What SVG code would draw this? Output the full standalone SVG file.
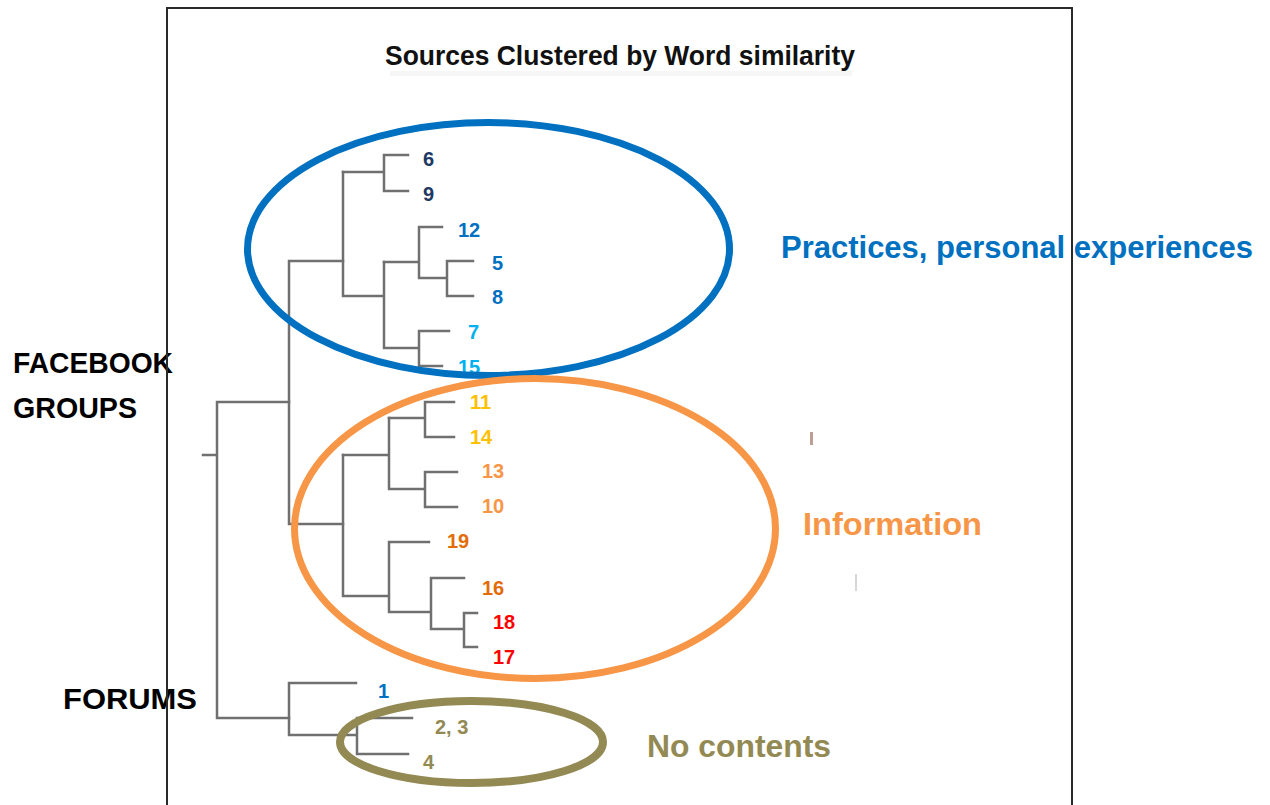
<svg xmlns="http://www.w3.org/2000/svg" width="1270" height="805" viewBox="0 0 1270 805">
  <style>
    .tree { fill: none; stroke: #707070; stroke-width: 2.5; stroke-linecap: square; }
    .leaf { font-family: "Liberation Sans", Arial, sans-serif; font-weight: bold; font-size: 20px; }
    .side { font-family: "Liberation Sans", Arial, sans-serif; font-weight: bold; font-size: 30px; fill: #000000; }
    .theme { font-family: "Liberation Sans", Arial, sans-serif; font-weight: bold; font-size: 31px; }
    .ring { fill: none; }
  </style>

  <rect width="1270" height="805" fill="#ffffff"/>

  <!-- chart title -->
  <g id="title">
    <rect x="390" y="71" width="462" height="5" fill="#f6f6f6"/>
    <text x="385" y="65" font-family="Liberation Sans, Arial, sans-serif" font-weight="bold" font-size="27" fill="#111111" textLength="470" lengthAdjust="spacingAndGlyphs">Sources Clustered by Word similarity</text>
  </g>

  <!-- dendrogram branches -->
  <g id="connectors" class="tree">
    <path d="M384 155 H408 M384 191 H408 M384 155 V191 M343 172 H384"/>
    <path d="M419 227 H442 M447 261 H473 M447 296 H473 M447 261 V296 M419 278 H447 M419 227 V278 M384 262 H419"/>
    <path d="M419 331 H449 M419 366 H442 M419 331 V366 M384 348 H419 M384 262 V348 M343 296 H384 M343 172 V296"/>
    <path d="M289 261 H343 M289 261 V524 M289 524 H343"/>
    <path d="M425 402 H454 M425 437 H454 M425 402 V437 M389 418 H425"/>
    <path d="M425 472 H457 M425 507 H457 M425 472 V507 M389 489 H425 M389 418 V489 M343 455 H389"/>
    <path d="M389 542 H429 M431 578 H464 M464 613 H477 M464 647 H477 M464 613 V647 M431 629 H464 M431 578 V629 M389 612 H431 M389 542 V612 M343 596 H389 M343 455 V596"/>
    <path d="M203 455 H217 M217 402 H289 M217 402 V718 M217 718 H289"/>
    <path d="M289 683 H356 M289 683 V735 M289 735 H357 M357 718 H412 M357 754 H408 M357 718 V754"/>
  </g>

  <!-- leaf labels -->
  <g id="leaf-6" class="leaf" fill="#203864"><text x="423" y="166">6</text></g>
  <g id="leaf-9" class="leaf" fill="#203864"><text x="423" y="201">9</text></g>
  <g id="leaf-12" class="leaf" fill="#0070c0"><text x="458" y="237">12</text></g>
  <g id="leaf-5" class="leaf" fill="#0070c0"><text x="492" y="270">5</text></g>
  <g id="leaf-8" class="leaf" fill="#0070c0"><text x="492" y="304">8</text></g>
  <g id="leaf-7" class="leaf" fill="#00b0f0"><text x="468" y="339">7</text></g>
  <g id="leaf-15" class="leaf" fill="#00b0f0"><text x="458" y="374">15</text></g>
  <g id="leaf-11" class="leaf" fill="#ffc000"><text x="470" y="409">11</text></g>
  <g id="leaf-14" class="leaf" fill="#ffc000"><text x="470" y="444">14</text></g>
  <g id="leaf-13" class="leaf" fill="#f79646"><text x="482" y="478">13</text></g>
  <g id="leaf-10" class="leaf" fill="#f79646"><text x="482" y="513">10</text></g>
  <g id="leaf-19" class="leaf" fill="#e36c09"><text x="447" y="548">19</text></g>
  <g id="leaf-16" class="leaf" fill="#e36c09"><text x="482" y="595">16</text></g>
  <g id="leaf-18" class="leaf" fill="#ff0000"><text x="493" y="629">18</text></g>
  <g id="leaf-17" class="leaf" fill="#ff0000"><text x="493" y="664">17</text></g>
  <g id="leaf-1" class="leaf" fill="#0070c0"><text x="378" y="698">1</text></g>
  <g id="leaf-2-3" class="leaf" fill="#938953"><text x="435" y="734">2, 3</text></g>
  <g id="leaf-4" class="leaf" fill="#938953"><text x="423" y="769">4</text></g>

  <!-- stray marks -->
  <rect x="810" y="432" width="3" height="13" fill="#a07868" opacity="0.7"/>
  <rect x="855" y="574" width="2" height="17" fill="#cccccc" opacity="0.8"/>

  <!-- cluster rings -->
  <g id="cluster-practices">
    <ellipse class="ring" cx="488.5" cy="249" rx="241" ry="126.5" stroke="#0070c0" stroke-width="7"/>
    <text class="theme" x="781" y="258" fill="#0070c0" textLength="472" lengthAdjust="spacingAndGlyphs">Practices, personal experiences</text>
  </g>
  <g id="cluster-information">
    <ellipse class="ring" cx="535" cy="528.5" rx="240.5" ry="150" stroke="#f79646" stroke-width="7"/>
    <text class="theme" x="803" y="535" fill="#f79646" textLength="179" lengthAdjust="spacingAndGlyphs">Information</text>
  </g>
  <g id="cluster-no-contents">
    <ellipse class="ring" cx="471.5" cy="742" rx="131.5" ry="41" stroke="#938953" stroke-width="8"/>
    <text class="theme" x="647" y="757" fill="#938953" textLength="184" lengthAdjust="spacingAndGlyphs">No contents</text>
  </g>

  <!-- source groups -->
  <g id="group-facebook">
    <text class="side" x="13" y="373" textLength="160" lengthAdjust="spacingAndGlyphs">FACEBOOK</text>
    <text class="side" x="13" y="418" textLength="124" lengthAdjust="spacingAndGlyphs">GROUPS</text>
  </g>
  <g id="group-forums">
    <text class="side" x="63" y="709" textLength="134" lengthAdjust="spacingAndGlyphs">FORUMS</text>
  </g>

  <!-- chart frame -->
  <path d="M167 812 V8 H1072 V812" fill="none" stroke="#2a2a2a" stroke-width="2"/>
</svg>
